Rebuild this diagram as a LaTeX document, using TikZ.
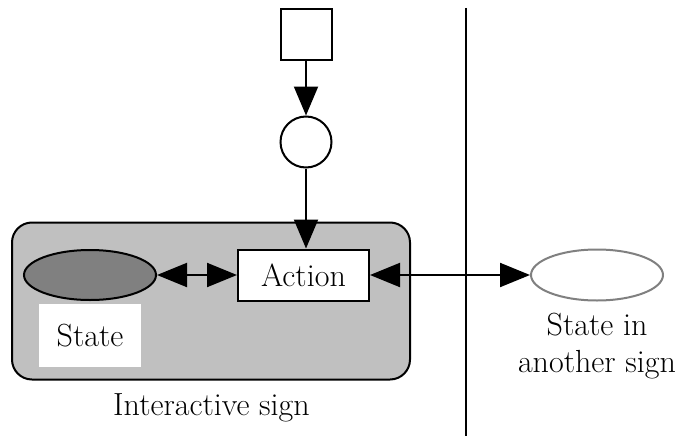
\documentclass[tikz,border=0pt]{standalone}
\usepackage{fontspec}
\usetikzlibrary{arrows.meta,shapes.geometric}
\begin{document}
\begin{tikzpicture}[x=1pt,y=-1pt,
  line width=2pt,
  tip/.style={-{Triangle[length=29pt,width=24pt]}},
  dtip/.style={{Triangle[length=30pt,width=24pt]}-{Triangle[length=30pt,width=24pt]}},
  lbl/.style={font=\fontsize{32}{36.5}\selectfont, align=center, inner sep=0pt}]
\useasboundingbox (0,0) rectangle (687,436);
% separator
\draw (466,8) -- (466,436);
% interactive sign
\node[draw, fill={rgb,255:red,192;green,192;blue,192}, rounded corners=20pt, minimum width=398pt, minimum height=157pt, inner sep=0pt] (sign) at (211,301) {};
\node[draw, fill=white, minimum width=51pt, minimum height=51pt, inner sep=0pt] (sq) at (306,34.5) {};
\node[draw, circle, fill=white, minimum size=51pt, inner sep=0pt] (circ) at (306,142) {};
\node[draw, fill=white, minimum width=131pt, minimum height=51pt, inner sep=0pt, lbl] (act) at (303.5,275) {Action};
\node[draw, ellipse, fill={rgb,255:red,128;green,128;blue,128}, minimum width=132pt, minimum height=50pt, inner sep=0pt] (st) at (90,275) {};
\node[fill=white, minimum width=102pt, minimum height=63pt, inner sep=0pt, lbl] (stl) at (90,335.5) {State};
\node[draw={rgb,255:red,128;green,128;blue,128}, ellipse, fill=white, minimum width=132pt, minimum height=51pt, inner sep=0pt] (other) at (597,275) {};
\node[lbl, anchor=north] (otherl) at (597,312.5) {State in\\another sign};
\node[lbl, anchor=base] (signl) at (211.5,415) {Interactive sign};
% connectors
\draw[tip] (sq) -- (circ);
\draw[tip] (circ.south) -- (circ.south |- act.north);
\draw[dtip] (st) -- (act);
\draw[dtip] (act.east) -- (other.west);
\end{tikzpicture}
\end{document}
